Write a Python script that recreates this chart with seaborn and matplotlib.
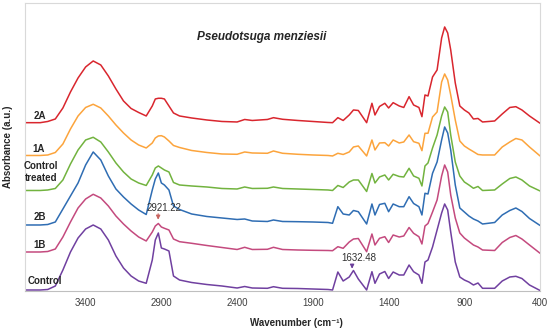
import pandas as pd
import seaborn as sns
import matplotlib.pyplot as plt

sns.set_style("white")
plt.rcParams["font.family"] = ["Liberation Sans", "DejaVu Sans"]

# -------- data (offset absorbance, a.u.) --------
wavenumber = [3800, 3700, 3650, 3600, 3550, 3500, 3450, 3400, 3350, 3300,
              3250, 3200, 3150, 3100, 3050, 3000, 2960, 2940, 2920, 2900,
              2880, 2850, 2820, 2780, 2700, 2600, 2500, 2400, 2350, 2300,
              2200, 2160, 2100, 2000, 1900, 1800, 1770, 1735, 1700, 1660,
              1632, 1600, 1545, 1510, 1490, 1460, 1425, 1400, 1370, 1330,
              1300, 1265, 1235, 1200, 1180, 1160, 1140, 1110, 1080, 1050,
              1030, 1010, 990, 960, 930, 900, 870, 840, 810, 780,
              700, 650, 600, 560, 520, 470, 400]

abs_2A = [168.3, 168.3, 169.5, 172, 183, 199, 213, 224, 230, 226,
          215, 202, 190, 182.5, 178.5, 175, 185, 192, 192.7, 192.7,
          192, 185, 178, 175, 173, 171, 169.5, 169, 171.5, 170.5,
          171.5, 173.3, 171.7, 170.5, 169.5, 168.5, 168.3, 173.3, 170.5, 176,
          181, 180.5, 168.3, 187.7, 176, 184.5, 187.7, 183, 188.3, 185,
          183.5, 194.3, 186, 183.5, 174.3, 196, 195, 214, 221, 253,
          264, 258, 241, 208, 185, 181, 178, 172, 172.5, 169,
          170, 177, 183.5, 184.3, 181, 175, 167.7]

abs_1A = [135.5, 135.5, 136, 138.5, 147, 162, 175, 183.5, 186.7, 183,
          175, 166, 158, 151, 146, 143, 148, 153, 155, 155.3,
          154, 150, 145.5, 143.5, 140.5, 138.5, 137, 136.7, 139, 138,
          137.7, 140, 137.7, 136.7, 136, 135.5, 135, 137.7, 136.5, 139,
          144, 145, 135, 151, 141, 148, 148.3, 145, 151, 148,
          149, 156, 149.3, 147.7, 140.3, 157.7, 157.7, 174, 179, 209,
          217, 211, 196, 171, 150, 145, 142, 139.3, 136.5, 136,
          136, 144, 149, 152.5, 151, 144, 135]

abs_ctrl_treated = [100.5, 100.5, 101, 102.5, 111, 127, 141, 151, 153.7, 149,
                    139, 128, 119, 112, 108, 105.5, 116, 123, 125, 123,
                    121, 119, 108.5, 106, 105, 104, 102.5, 102, 104, 102.5,
                    102.7, 104, 102.5, 102, 101.5, 101, 100.5, 105.5, 103.5, 109,
                    111, 111, 99.5, 117.5, 108, 114, 116, 111, 116.7, 114.5,
                    114, 122.7, 115, 112.7, 105, 125, 128, 143, 156, 175,
                    184, 179, 156, 129, 115, 109, 106, 102.7, 104.5, 100.5,
                    101, 107, 112.5, 114, 111, 105, 100]

abs_2B = [66, 66, 66.5, 69, 82, 95, 108, 126, 139, 131,
          115, 102, 94, 87, 81, 76.5, 101, 112, 118, 108,
          106, 101, 85, 81.5, 77, 74.5, 73, 71.5, 72, 70,
          69.5, 71, 69.5, 69.3, 69, 68.5, 67.7, 84.3, 77, 76,
          80.5, 79.3, 67, 87, 76, 86.5, 87.7, 79.3, 87, 84.3,
          84.3, 94.3, 87.5, 84.3, 76, 97.7, 97, 117.7, 129, 151,
          164, 158, 141, 106, 83, 79, 75, 72, 70, 67,
          68.5, 76, 80.5, 83, 79.5, 72.5, 65.5]

abs_1B = [39, 39, 39.5, 42, 54, 69, 83, 92, 96.7, 93,
          85, 75, 67, 60, 54, 50, 59, 65, 67.5, 64,
          62.7, 61, 52, 49.3, 47.7, 45.5, 43.5, 41.5, 43.7, 41.5,
          41.7, 43.7, 41.5, 41, 40.7, 40.5, 40.3, 44.3, 42.7, 49,
          52, 52.5, 39.3, 57, 46, 52.7, 54.3, 48.5, 56, 54,
          55, 63.5, 57.7, 54.3, 47, 65, 67.5, 79, 91, 115,
          126, 119, 96, 73, 58, 53, 49.5, 46, 44, 41,
          40.5, 48.5, 53.5, 55.5, 52, 46, 37.7]

abs_control = [1, 1, 1.5, 5, 21, 39, 53, 62, 66, 62,
               51, 35, 23, 15, 10, 7.7, 31, 51, 58, 43,
               42, 40, 15, 11, 8.5, 6.5, 5, 3, 4.5, 3,
               2.7, 4.3, 2.7, 2.5, 2, 1.5, 1, 19, 10, 14,
               20.5, 12, 1, 19.3, 7.7, 17, 19.5, 12.5, 19, 16,
               16, 26, 19.3, 16, 7.7, 29, 31, 44, 61, 78,
               87, 81, 59, 29, 14, 11, 9, 6, 8, 2.7,
               2.7, 10, 14, 14.7, 12.5, 6, 0.5]

samples = ["Control", "1B", "2B", "Control treated", "1A", "2A"]
series = [abs_control, abs_1B, abs_2B, abs_ctrl_treated, abs_1A, abs_2A]
colors = {"Control": "#7040a0", "1B": "#c44a7e", "2B": "#2f6db3",
          "Control treated": "#72b33f", "1A": "#fca43c", "2A": "#d9262e"}

df = pd.concat([pd.DataFrame({"Wavenumber": wavenumber, "Absorbance": vals, "Sample": name})
                for name, vals in zip(samples, series)], ignore_index=True)

# -------- plot --------
fig, ax = plt.subplots(figsize=(5.5, 3.29), dpi=100)
fig.subplots_adjust(left=0.0455, right=0.982, top=0.991, bottom=0.1155)

sns.lineplot(data=df, x="Wavenumber", y="Absorbance", hue="Sample", hue_order=samples,
             palette=colors, estimator=None, sort=False, lw=1.1, legend=False, ax=ax)

ax.set_xlim(3800, 400)
ax.set_ylim(0, 288)
ax.set_xticks([3400, 2900, 2400, 1900, 1400, 900, 400])
ax.set_yticks([])
ax.tick_params(axis="x", length=0, pad=5, labelsize=7, labelcolor="#404040")
for side in ["top", "right", "left"]:
    ax.spines[side].set_color("#d9d9d9")
    ax.spines[side].set_linewidth(0.8)
ax.spines["bottom"].set_color("#bfbfbf")
ax.spines["bottom"].set_linewidth(0.8)

ax.set_xlabel("Wavenumber (cm⁻¹)", fontsize=7, fontweight="bold", labelpad=7, x=0.526)
ax.set_ylabel("Absorbance (a.u.)", fontsize=7, fontweight="bold", labelpad=9)

ax.text(2239, 254, "Pseudotsuga menziesii", fontsize=8.5, fontweight="bold",
        fontstyle="italic", ha="center", va="center")

# sample labels on the left
label_pos = [("2A", 3700, 170), ("1A", 3713, 137), ("Control\ntreated", 3693, 108),
             ("2B", 3700, 69), ("1B", 3703, 41), ("Control", 3670, 5)]
for txt, x, y in label_pos:
    ax.text(x, y, txt, fontsize=7, fontweight="bold", ha="center", va="bottom",
            linespacing=1.25)

# peak annotations
ax.text(2880, 83, "2921.22", fontsize=7, ha="center", va="center", color="#303030")
ax.annotate("", xy=(2921.22, 68.5), xytext=(2921.22, 80),
            arrowprops=dict(arrowstyle="-|>", color="#c8645f", lw=0.8, mutation_scale=6))
ax.text(1597, 33, "1632.48", fontsize=7, ha="center", va="center", color="#303030")
ax.annotate("", xy=(1641, 19.5), xytext=(1641, 29.5),
            arrowprops=dict(arrowstyle="-|>", color="#6a3d9a", lw=0.8, mutation_scale=6))

fig.savefig("out.png", dpi=100)
